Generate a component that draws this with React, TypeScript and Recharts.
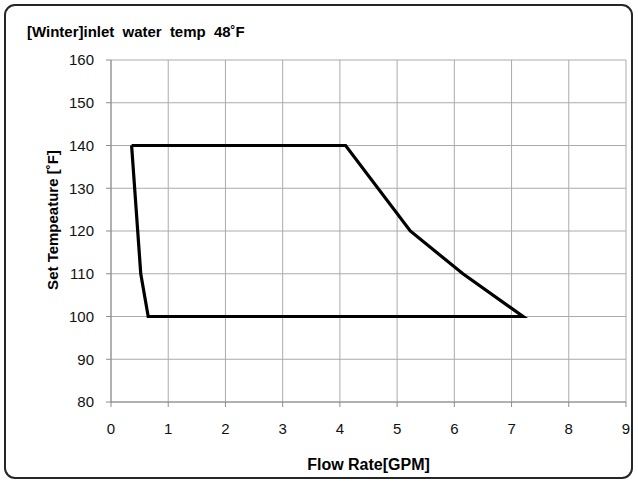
import React from 'react';
import { LineChart, Line, XAxis, YAxis, CartesianGrid, Label } from 'recharts';

// operating envelope, traced clockwise from the top-left corner
const flowRates = [0.36, 4.1, 5.23, 6.15, 7.2, 0.65, 0.52, 0.36];
const setTemps = [140, 140, 120, 110, 100, 100, 110, 140];

const xTicks = [0, 1, 2, 3, 4, 5, 6, 7, 8, 9];
const yTicks = [80, 90, 100, 110, 120, 130, 140, 150, 160];

const chartData = flowRates.map((x, i) => ({ x, temp: setTemps[i] }));

const FONT = '"Liberation Sans", Arial, sans-serif';

const App: React.FC = () => {
  return (
    <div style={{ position: 'absolute', left: 0, top: 0, width: 638, height: 482, background: '#fff', fontFamily: FONT }}>
      <div
        style={{
          position: 'absolute',
          left: 4,
          top: 4,
          width: 625,
          height: 471,
          border: '2.5px solid #262626',
          borderRadius: 11,
        }}
      />
      <div style={{ position: 'absolute', left: 27, top: 23, fontSize: 15, fontWeight: 'bold', color: '#000', wordSpacing: 4 }}>
        [Winter]inlet water temp 48˚F
      </div>
      <LineChart
        width={638}
        height={482}
        data={chartData}
        margin={{ top: 60, right: 12, bottom: 50, left: 51 }}
        style={{ position: 'absolute', left: 0, top: 0 }}
      >
        <CartesianGrid stroke="#ababab" strokeWidth={1} horizontalValues={yTicks} verticalValues={xTicks} />
        <XAxis
          type="number"
          dataKey="x"
          domain={[0, 9]}
          ticks={xTicks}
          interval={0}
          height={30}
          stroke="#8c8c8c"
          tickSize={5}
          tickMargin={16}
          tick={{ fontSize: 15, fill: '#111', fontFamily: FONT }}
        >
          <Label
            value="Flow Rate[GPM]"
            position="insideBottom"
            offset={-38}
            style={{ fontSize: 16, fontWeight: 'bold', fill: '#000', fontFamily: FONT }}
          />
        </XAxis>
        <YAxis
          type="number"
          domain={[80, 160]}
          ticks={yTicks}
          interval={0}
          width={60}
          stroke="#8c8c8c"
          tickSize={5}
          tickMargin={12}
          tick={{ fontSize: 15, fill: '#111', fontFamily: FONT }}
        >
          <Label
            value="Set  Tempeature  [˚F]"
            angle={-90}
            position="center"
            dx={-28}
            dy={-11}
            style={{ fontSize: 15, fontWeight: 'bold', fill: '#000', fontFamily: FONT, textAnchor: 'middle', whiteSpace: 'pre' }}
          />
        </YAxis>
        <Line
          type="linear"
          dataKey="temp"
          stroke="#000"
          strokeWidth={3.2}
          dot={false}
          isAnimationActive={false}
        />
      </LineChart>
    </div>
  );
};

export default App;
